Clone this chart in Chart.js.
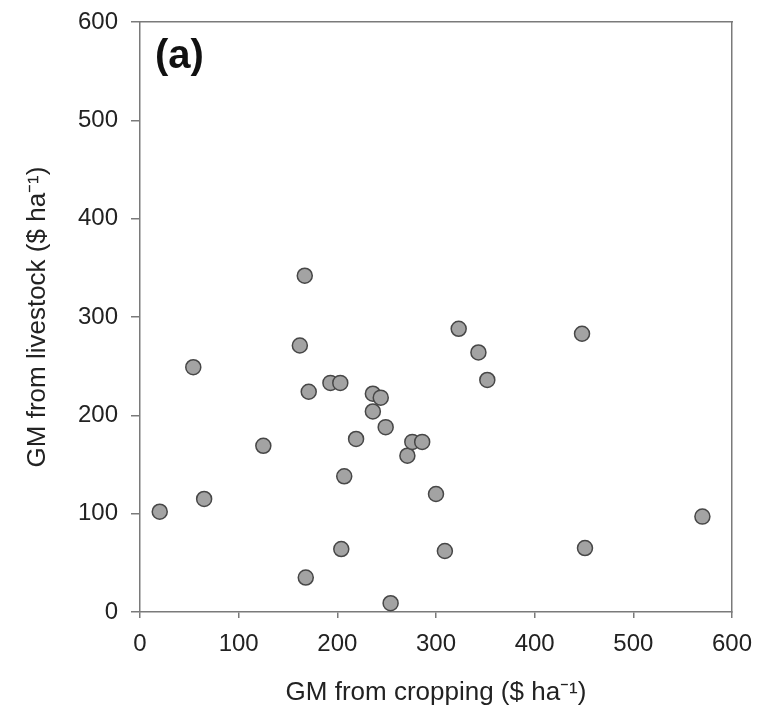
<!DOCTYPE html>
<html>
<head>
<meta charset="utf-8">
<script src="https://cdn.jsdelivr.net/npm/chart.js@4/dist/chart.umd.min.js"></script>
<style>
html,body{margin:0;padding:0;background:#fff;}
#wrap{position:relative;width:758px;height:713px;}
</style>
</head>
<body>
<div id="wrap"><canvas id="c" width="758" height="713"></canvas></div>
<script>
// Data
const cropGM      = [20, 54, 65, 125, 168, 204, 207, 171, 162, 167, 193, 203, 219, 236, 244, 236, 249, 254, 271, 276, 286, 300, 309, 343, 352, 323, 448, 451, 570];
const livestockGM = [102, 249, 115, 169, 35, 64, 138, 224, 271, 342, 233, 233, 176, 222, 218, 204, 188, 9, 159, 173, 173, 120, 62, 264, 236, 288, 283, 65, 97];
const xTickValues = [0, 100, 200, 300, 400, 500, 600];
const yTickValues = [0, 100, 200, 300, 400, 500, 600];
const xTitle = 'GM from cropping ($ ha\u207B\u00B9)';
const yTitle = 'GM from livestock ($ ha\u207B\u00B9)';
const panelLabel = '(a)';

const points = cropGM.map((x, i) => ({ x: x, y: livestockGM[i] }));
const FONT = '"Liberation Sans", Arial, Helvetica, sans-serif';
const AXIS = '#7a7a7a';
const TEXT = '#222';

const panelLabelPlugin = {
  id: 'panelLabel',
  afterDraw(chart) {
    const ctx = chart.ctx;
    ctx.save();
    ctx.font = 'bold 40px ' + FONT;
    ctx.fillStyle = '#111';
    ctx.textBaseline = 'alphabetic';
    ctx.textAlign = 'left';
    ctx.fillText(panelLabel, chart.chartArea.left + 15, chart.chartArea.top + 46);
    ctx.restore();
  }
};

new Chart(document.getElementById('c'), {
  type: 'scatter',
  data: {
    datasets: [{
      data: points,
      backgroundColor: '#a3a3a3',
      borderColor: '#474747',
      borderWidth: 1.5,
      pointRadius: 7.5,
      pointHoverRadius: 7.5
    }]
  },
  options: {
    responsive: false,
    animation: false,
    devicePixelRatio: 1,
    layout: { padding: 0 },
    plugins: { legend: { display: false }, tooltip: { enabled: false } },
    scales: {
      x: {
        type: 'linear', position: 'bottom',
        min: xTickValues[0], max: xTickValues[xTickValues.length - 1],
        afterBuildTicks: s => { s.ticks = xTickValues.map(v => ({ value: v })); },
        ticks: { font: { family: FONT, size: 24 }, color: TEXT, padding: 12, maxRotation: 0 },
        grid: { drawOnChartArea: false, tickLength: 6, color: AXIS, lineWidth: 1.5 },
        border: { color: AXIS, width: 1.5 },
        title: { display: true, text: xTitle, font: { family: FONT, size: 26 }, color: TEXT, padding: { top: 0, bottom: 5 } },
        afterFit: s => { s.height = 101; s.paddingRight = 0; s.paddingLeft = 0; }
      },
      y: {
        type: 'linear', position: 'left',
        min: yTickValues[0], max: yTickValues[yTickValues.length - 1],
        afterBuildTicks: s => { s.ticks = yTickValues.map(v => ({ value: v })); },
        ticks: { font: { family: FONT, size: 24 }, color: TEXT, padding: 13 },
        grid: { drawOnChartArea: false, tickLength: 9, color: AXIS, lineWidth: 1.5 },
        border: { color: AXIS, width: 1.5 },
        title: { display: true, text: yTitle, font: { family: FONT, size: 26 }, color: TEXT, padding: { top: 22, bottom: 0 } },
        afterFit: s => { s.width = 140; s.paddingTop = 0; s.paddingBottom = 0; }
      },
      xTop: {
        axis: 'x', type: 'linear', position: 'top',
        min: xTickValues[0], max: xTickValues[xTickValues.length - 1],
        ticks: { display: false },
        grid: { display: false, drawTicks: false },
        border: { color: AXIS, width: 1.5 },
        afterFit: s => { s.height = 22; s.paddingLeft = 0; s.paddingRight = 0; }
      },
      yRight: {
        axis: 'y', type: 'linear', position: 'right',
        min: yTickValues[0], max: yTickValues[yTickValues.length - 1],
        ticks: { display: false },
        grid: { display: false, drawTicks: false },
        border: { color: AXIS, width: 1.5 },
        afterFit: s => { s.width = 26; s.paddingTop = 0; s.paddingBottom = 0; }
      }
    }
  },
  plugins: [panelLabelPlugin]
});
</script>
</body>
</html>
